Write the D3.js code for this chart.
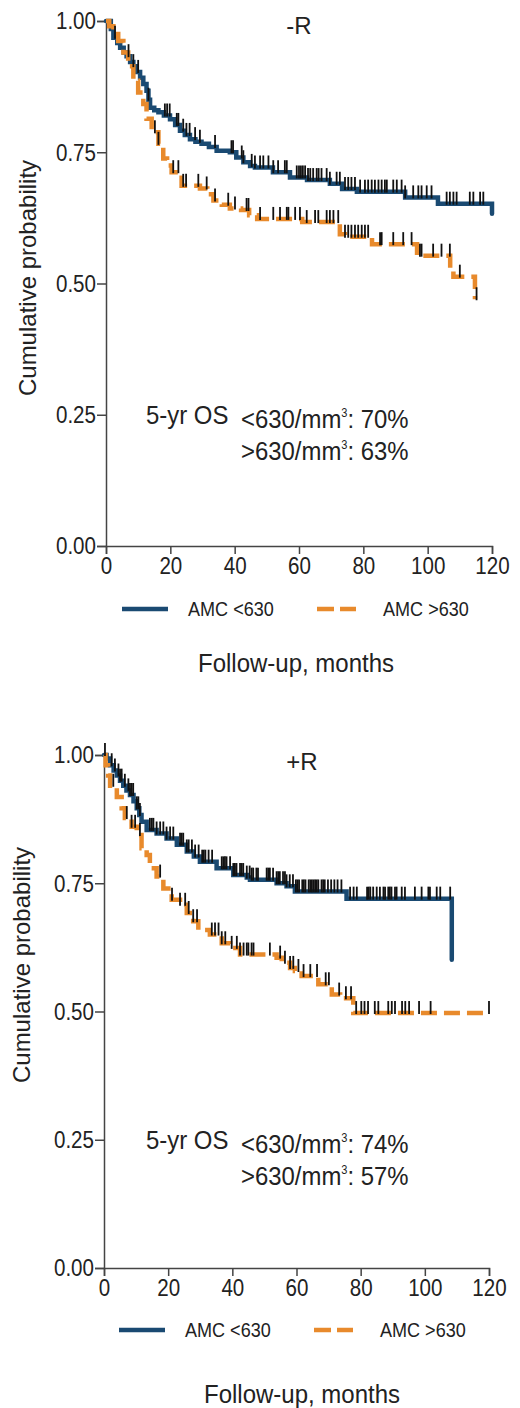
<!DOCTYPE html>
<html>
<head>
<meta charset="utf-8">
<script src="https://cdn.jsdelivr.net/npm/d3@7"></script>
<style>
  body { margin: 0; background: #fff; }
  svg { display: block; font-family: "Liberation Sans", Arial, sans-serif; }
</style>
</head>
<body>
<script>
const BLUE = "#1a4a72";
const ORANGE = "#e88a2c";

const xTicks = [0, 20, 40, 60, 80, 100, 120];
const yTicks = [0, 0.25, 0.5, 0.75, 1];
const legendLabels = ["AMC <630", "AMC >630"];

// -R panel
const topLowTime = [0, 1.5, 2.3, 3.5, 4.4, 5.5, 6.4, 7.5, 8.5, 9.5, 10.6, 11.6, 12.6, 13.2, 13.7, 15, 16.3, 18, 19.9, 21.5, 23, 24.5, 26.1, 27.8, 29.7, 32, 34.4, 38.5, 40.5, 42.7, 44.8, 46.3, 51.9, 57.2, 62.5, 69.6, 73.4, 78, 93, 103.2, 120];
const topLowSurv = [1, 0.985, 0.968, 0.958, 0.949, 0.94, 0.933, 0.922, 0.914, 0.903, 0.892, 0.88, 0.867, 0.85, 0.835, 0.83, 0.826, 0.82, 0.813, 0.802, 0.791, 0.783, 0.775, 0.77, 0.766, 0.76, 0.753, 0.75, 0.74, 0.731, 0.724, 0.721, 0.712, 0.702, 0.697, 0.69, 0.68, 0.675, 0.664, 0.652, 0.633];
const topLowCensor = [2.8, 7, 8.5, 10, 13.2, 18.3, 19, 19.8, 22, 22.5, 24, 25, 26, 27.7, 29.2, 33.9, 39, 39.5, 42.2, 42.7, 45.3, 46.3, 47.9, 48.9, 50.5, 52, 53.5, 55.6, 56.2, 59.3, 60, 60.6, 61.2, 61.9, 62.8, 63.5, 64.4, 65.5, 66.1, 67, 68.6, 69.6, 71.7, 72.7, 74.3, 75.3, 76.3, 77.4, 79, 80.5, 81.5, 82.6, 83.6, 84.7, 85.7, 86.7, 87.3, 89.3, 90.4, 91.9, 93, 95.5, 97.1, 98.1, 99.7, 101.2, 105.9, 106.9, 108, 109, 113.1, 114.2, 116.3, 117.3];
const topHighTime = [0, 1, 2.3, 3.8, 5.4, 6.9, 8.5, 10, 11.6, 12.6, 14.2, 16.3, 17.8, 19, 20.4, 23.5, 29.2, 31.5, 33.4, 36, 38.5, 42, 44.5, 47, 61, 72.7, 74.3, 82.7, 96.7, 107, 108, 114.7];
const topHighSurv = [1, 0.99, 0.981, 0.962, 0.94, 0.914, 0.886, 0.864, 0.842, 0.814, 0.788, 0.766, 0.738, 0.725, 0.712, 0.686, 0.681, 0.67, 0.658, 0.65, 0.643, 0.64, 0.63, 0.623, 0.617, 0.594, 0.589, 0.575, 0.553, 0.528, 0.513, 0.47];
const topHighCensor = [15.2, 16.3, 20.9, 22.5, 24, 24.9, 28.7, 31.3, 33.9, 38, 40.1, 43.7, 44.3, 47.9, 52, 54.1, 56.2, 56.7, 58.8, 60.3, 62.4, 65, 66, 68.6, 69.6, 70.7, 72.2, 74.3, 75.3, 76.3, 77.4, 78.4, 79.5, 80.5, 81.5, 85.2, 85.7, 89.3, 92.4, 95, 97.6, 98.1, 101.7, 104.3, 106.9, 110, 115.2];
const topOS = ["70%", "63%"];

// +R panel
const botLowTime = [0, 0.8, 1.9, 3, 4, 5, 6, 7, 8.1, 9.2, 10.2, 11, 11.7, 13.3, 16.4, 19.5, 22.7, 25.8, 28, 29.9, 35.1, 40.3, 44.5, 45.5, 53.8, 56.9, 59.5, 75.6, 108.4];
const botLowSurv = [1, 0.993, 0.98, 0.97, 0.96, 0.95, 0.94, 0.931, 0.922, 0.91, 0.896, 0.883, 0.87, 0.854, 0.847, 0.837, 0.825, 0.812, 0.802, 0.792, 0.779, 0.766, 0.761, 0.757, 0.75, 0.744, 0.734, 0.72, 0.601];
const botLowCensor = [0.3, 2.4, 3.4, 4.5, 5, 5.5, 6.5, 7.6, 8.1, 8.6, 9.1, 10.2, 10.7, 11.2, 14.3, 14.9, 15.4, 16.4, 17.5, 18.5, 19.5, 20.6, 21.6, 23.7, 24.2, 24.7, 25.8, 26.4, 27.4, 28.4, 29.5, 30.6, 31.1, 31.6, 32.6, 33.7, 36.7, 37.2, 37.7, 38.2, 39.3, 40.3, 40.8, 41.3, 42.4, 42.9, 43.4, 44.5, 45.4, 46, 46.5, 47.5, 48, 50.7, 51.2, 51.7, 52.7, 53.8, 54.3, 54.8, 55.8, 56.4, 56.9, 57.9, 58.9, 59.8, 60.3, 60.8, 61.8, 62.3, 62.8, 63.8, 64.3, 64.8, 65.3, 65.8, 66.3, 66.8, 67.8, 68.3, 68.8, 69.8, 70.8, 71.8, 72.8, 74, 76.7, 77.8, 78.8, 82, 82.5, 83, 83.9, 85, 86, 87.1, 87.6, 88.6, 89.1, 89.6, 90.7, 91.2, 92.8, 93.8, 96.9, 99, 101.1, 101.6, 103.7, 104.8, 107.9];
const botHighTime = [0, 0.5, 1.3, 1.9, 4, 5.5, 6.5, 8.6, 10.2, 11.7, 13.3, 14.3, 16.4, 18.5, 21.1, 23.7, 25.8, 27.8, 29.4, 33, 36.7, 39.3, 42.4, 53.8, 55.4, 58, 59.5, 61.6, 66.8, 71, 73.6, 77.7, 120];
const botHighSurv = [1, 0.98, 0.96, 0.94, 0.918, 0.896, 0.877, 0.86, 0.844, 0.818, 0.805, 0.779, 0.763, 0.74, 0.718, 0.708, 0.692, 0.676, 0.659, 0.65, 0.633, 0.624, 0.611, 0.605, 0.595, 0.585, 0.579, 0.569, 0.553, 0.533, 0.526, 0.497, 0.497];
const botHighCensor = [2.9, 7.1, 8.6, 9.7, 11.2, 17.5, 21.2, 23.7, 25.3, 26.4, 27.8, 29, 33.6, 34.6, 35.7, 36.7, 37.8, 39.8, 41.4, 42.4, 43.5, 44.5, 45, 46, 46.6, 51.7, 54.9, 56.4, 58, 59, 60.6, 62.2, 64.3, 66.4, 69.1, 70.1, 73.3, 75.4, 77, 78.6, 80.2, 81.2, 82.3, 84.4, 85.5, 88.6, 89.7, 90.7, 92.9, 93.9, 95.1, 98.2, 101.8, 120];
const botOS = ["74%", "57%"];

const svg = d3.select("body").append("svg")
    .attr("width", 520)
    .attr("height", 1408);

// step value of a curve at time t
function survAt(times, surv, t) {
    let s = surv[0];
    for (let i = 0; i < times.length; i++) {
        if (times[i] <= t) s = surv[i];
    }
    return s;
}

// horizontally condense text (no narrow font installed)
function squeeze(sel, k) {
    sel.each(function() {
        const t = d3.select(this);
        const x = +t.attr("x") || 0;
        t.attr("x", x / k).attr("transform", `scale(${k},1)`);
    });
}

function drawPanel(p) {
    const x = d3.scaleLinear().domain([0, 120]).range([p.left, p.right]);
    const y = d3.scaleLinear().domain([0, 1]).range([p.bottom, p.top]);
    const g = svg.append("g");

    // axes
    const yAxis = g.append("g")
        .attr("transform", `translate(${p.left},0)`)
        .call(d3.axisLeft(y).tickValues(yTicks).tickFormat(d3.format(".2f")).tickSize(9).tickPadding(1));
    const xAxis = g.append("g")
        .attr("transform", `translate(0,${p.bottom})`)
        .call(d3.axisBottom(x).tickValues(xTicks).tickSize(8).tickPadding(3));
    [xAxis, yAxis].forEach(a => {
        a.select(".domain").attr("stroke", "#444").attr("stroke-width", 1.5);
        a.selectAll(".tick line").attr("stroke", "#444").attr("stroke-width", 1.5);
        a.selectAll(".tick text").attr("fill", "#222").style("font-size", "24.5px")
            .style("font-family", "inherit");
        squeeze(a.selectAll(".tick text"), 0.84);
    });

    const line = d3.line()
        .x(d => x(d[0]))
        .y(d => y(d[1]))
        .curve(d3.curveStepAfter);

    p.series.forEach(s => {
        const pts = s.time.map((t, i) => [t, s.surv[i]]);
        g.append("path")
            .datum(pts)
            .attr("fill", "none")
            .attr("stroke", s.color)
            .attr("stroke-width", 4.5)
            .attr("stroke-linecap", s.dash ? "butt" : "round")
            .attr("stroke-dasharray", s.dash ? "16,7" : null)
            .attr("d", line);
    });

    // censor marks
    p.series.forEach(s => {
        g.selectAll(null)
            .data(s.censor)
            .enter()
            .append("line")
            .attr("x1", d => x(d))
            .attr("x2", d => x(d))
            .attr("y1", d => y(survAt(s.time, s.surv, d)) - 12)
            .attr("y2", d => y(survAt(s.time, s.surv, d)) + 1)
            .attr("stroke", "#111")
            .attr("stroke-width", 1.8);
    });

    // title
    g.append("text")
        .attr("x", p.titleX)
        .attr("y", p.titleY)
        .attr("text-anchor", "middle")
        .style("font-size", "24px")
        .attr("fill", "#222")
        .text(p.title);

    // y label
    g.append("text")
        .attr("transform", `translate(${p.ylabX},${p.ylabY}) rotate(-90)`)
        .attr("text-anchor", "middle")
        .style("font-size", "24px")
        .attr("fill", "#222")
        .text("Cumulative probability");

    // 5-yr OS annotation
    const os = g.append("text")
        .attr("x", 146)
        .attr("y", p.osY)
        .style("font-size", "26px")
        .attr("fill", "#222")
        .text("5-yr OS");
    squeeze(os, 0.92);
    ["<", ">"].forEach((sym, i) => {
        const t = g.append("text")
            .attr("x", 241)
            .attr("y", p.osY + 4 + i * 32)
            .style("font-size", "26px")
            .attr("fill", "#222");
        t.append("tspan").text(sym + "630/mm");
        t.append("tspan").attr("dy", -11).style("font-size", "12px").text("3");
        t.append("tspan").attr("dy", 11).text(": " + p.os[i]);
        squeeze(t, 0.92);
    });

    // legend
    const lg = g.append("g");
    lg.append("line")
        .attr("x1", p.legX).attr("x2", p.legX + 46)
        .attr("y1", p.legY).attr("y2", p.legY)
        .attr("stroke", BLUE).attr("stroke-width", 4.5);
    lg.append("text")
        .attr("x", p.legX + 66).attr("y", p.legY + 7)
        .style("font-size", "21px").attr("fill", "#222")
        .text(legendLabels[0]);
    lg.append("line")
        .attr("x1", p.legX + 195).attr("x2", p.legX + 234)
        .attr("y1", p.legY).attr("y2", p.legY)
        .attr("stroke", ORANGE).attr("stroke-width", 4.5)
        .attr("stroke-dasharray", "17,6");
    lg.append("text")
        .attr("x", p.legX + 261).attr("y", p.legY + 7)
        .style("font-size", "21px").attr("fill", "#222")
        .text(legendLabels[1]);
    squeeze(lg.selectAll("text"), 0.86);

    // x label
    const xl = g.append("text")
        .attr("x", p.xlabX)
        .attr("y", p.xlabY)
        .attr("text-anchor", "middle")
        .style("font-size", "25px")
        .attr("fill", "#222")
        .text("Follow-up, months");
    squeeze(xl, 0.96);
}

drawPanel({
    left: 106, right: 492, top: 21, bottom: 546,
    title: "-R", titleX: 299, titleY: 34,
    ylabX: 36, ylabY: 278,
    osY: 424, os: topOS,
    legX: 122, legY: 609,
    xlabX: 296, xlabY: 672,
    series: [
        {time: topLowTime, surv: topLowSurv, censor: topLowCensor, color: BLUE, dash: false},
        {time: topHighTime, surv: topHighSurv, censor: topHighCensor, color: ORANGE, dash: true}
    ]
});

drawPanel({
    left: 104, right: 489, top: 755, bottom: 1268,
    title: "+R", titleX: 302, titleY: 770,
    ylabX: 30, ylabY: 965,
    osY: 1149, os: botOS,
    legX: 119, legY: 1330,
    xlabX: 302, xlabY: 1403,
    series: [
        {time: botLowTime, surv: botLowSurv, censor: botLowCensor, color: BLUE, dash: false},
        {time: botHighTime, surv: botHighSurv, censor: botHighCensor, color: ORANGE, dash: true}
    ]
});
</script>
</body>
</html>
